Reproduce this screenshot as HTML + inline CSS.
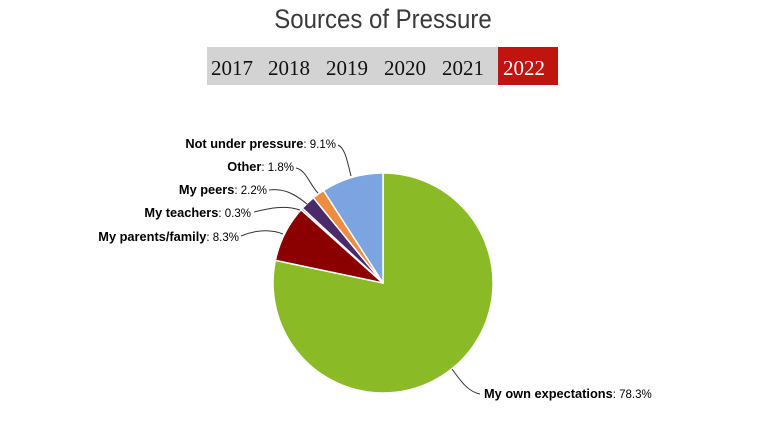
<!DOCTYPE html>
<html><head><style>
body{margin:0;width:776px;height:441px;background:#fff;overflow:hidden;position:relative;font-family:"Liberation Sans",Arial,sans-serif}
.t{position:absolute;left:0;width:766px;top:6px;text-align:center;font-size:24px;color:#3a3a3a;font-weight:300;transform:scaleY(1.12)}
.bar{position:absolute;left:207px;top:47px;width:351px;height:38px;background:#d3d3d3;font-family:"Liberation Serif",serif;font-size:21px;color:#111}
.bar span{position:absolute;top:9px}
.sel{position:absolute;left:291px;top:0;width:60px;height:38px;background:#c0140f;color:#fff}
</style></head><body>
<div class="t">Sources of Pressure</div>
<div class="bar">
<span style="left:4px">2017</span><span style="left:61px">2018</span><span style="left:119px">2019</span><span style="left:177px">2020</span><span style="left:235px">2021</span>
<div class="sel"><span style="left:5px">2022</span></div>
</div>
<svg width="776" height="441" style="position:absolute;left:0;top:0">
<g stroke="#fff" stroke-width="1.5" stroke-linejoin="round">
<path d="M383,283 L383,173 A110,110 0 1 1 275.4,260.4 Z" fill="#8abb27"/>
<path d="M383,283 L275.4,260.4 A110,110 0 0 1 301,209.7 Z" fill="#8b0000"/>
<path d="M383,283 L301,209.7 A110,110 0 0 1 302.3,208.2 Z" fill="#3b5fa0"/>
<path d="M383,283 L302.3,208.2 A110,110 0 0 1 313.4,197.8 Z" fill="#4a2a6a"/>
<path d="M383,283 L313.4,197.8 A110,110 0 0 1 323.5,190.5 Z" fill="#ee8c40"/>
<path d="M383,283 L323.5,190.5 A110,110 0 0 1 383,173 Z" fill="#7ba4e0"/>
</g>
<g fill="none" stroke="#333" stroke-width="1">
<path d="M338,145 C345,148 347,160 351,176"/>
<path d="M296,168 C306,170 310,185 318,193"/>
<path d="M269,190 C285,188 296,195 307,204"/>
<path d="M254,212 C270,208 285,205 300,210"/>
<path d="M241,236 C255,230 270,229 283,234"/>
<path d="M452,369 C460,380 468,392 480,394"/>
</g>
<g font-size="11.5" fill="#000" text-anchor="end">
<text x="336" y="148"><tspan font-weight="bold" font-size="12.8">Not under pressure</tspan>: 9.1%</text>
<text x="294" y="171"><tspan font-weight="bold" font-size="12.8">Other</tspan>: 1.8%</text>
<text x="267" y="194"><tspan font-weight="bold" font-size="12.8">My peers</tspan>: 2.2%</text>
<text x="251" y="217"><tspan font-weight="bold" font-size="12.8">My teachers</tspan>: 0.3%</text>
<text x="239" y="241"><tspan font-weight="bold" font-size="12.8">My parents/family</tspan>: 8.3%</text>
</g>
<text x="484" y="398" font-size="11.5"><tspan font-weight="bold" font-size="12.8">My own expectations</tspan>: 78.3%</text>
</svg>
</body></html>
